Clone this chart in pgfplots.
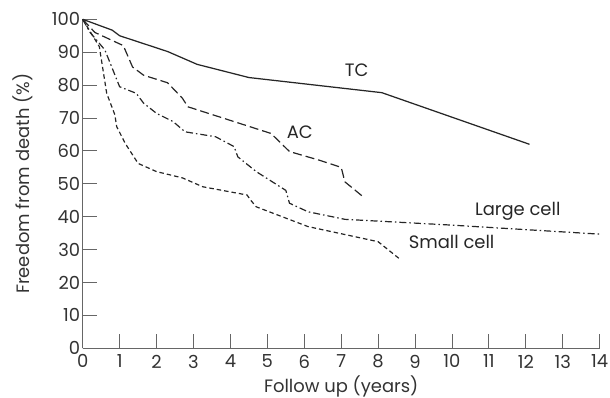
\documentclass[border=0pt]{standalone}
\usepackage{pgfplots}
\pgfplotsset{compat=1.18}
\usepackage{fontspec}
\setmainfont{Poppins}
\begin{document}
\begin{tikzpicture}[font=\fontsize{18}{21}\selectfont]
\begin{axis}[
  scale only axis,
  width=517bp, height=329bp,
  xmin=0, xmax=14, ymin=0, ymax=100,
  axis lines=left,
  axis line style={-, draw=black!60, line width=1pt},
  tick style={draw=black!60, line width=0.9pt},
  tick align=inside,
  major tick length=14bp,
  xtick={0,1,...,14}, ytick={0,10,...,100},
  /pgf/number format/assume math mode=true,
  ticklabel style={text=black!80},
  xticklabel style={yshift=-3bp},
  yticklabel style={xshift=1bp},
  xlabel={Follow up (years)},
  ylabel={Freedom from death (\%)},
  xlabel style={yshift=-1bp},
  ylabel style={yshift=12bp},
  label style={text=black!80},
  clip=false,
]
\coordinate (O) at (rel axis cs:0,0);
% TC
\addplot[black!85, line width=1.25pt] coordinates {
(0,100) (0.8,96.7) (1,95) (2.3,90.2) (3.1,86.3) (4.5,82.3) (8.1,77.7) (12.1,62)};
% AC
\addplot[black!85, line width=1.2pt, dash pattern=on 9bp off 4bp] coordinates {
(0,100) (0.33,96) (1.1,92) (1.35,85.5) (1.65,83) (2.3,80.7) (2.7,76) (2.85,73.4) (5.1,65.3) (5.6,59.8) (6.4,57.2) (7.0,55) (7.1,50.6) (7.6,46)};
% Large cell
\addplot[black!85, line width=1.2pt, dash pattern=on 7bp off 3bp on 1.5bp off 3bp] coordinates {
(0,100) (0.2,96) (0.6,90.7) (1.0,79.5) (1.45,77.5) (1.65,74.5) (2.0,71.4) (2.45,68.9) (2.77,65.8) (3.6,64.3) (4.1,61.3) (4.2,58.2) (4.7,53.7) (5.5,48) (5.6,44.1) (6.1,41.5) (7.1,39.2) (9.9,37.5) (14,34.7)};
% Small cell
\addplot[black!85, line width=1.2pt, dash pattern=on 4.5bp off 3bp] coordinates {
(0,100) (0.45,91.7) (0.65,77.5) (0.87,71) (0.92,67.4) (1.15,62.3) (1.5,56.2) (2.0,53.7) (2.7,51.8) (3.25,49.1) (4.45,46.6) (4.55,45) (4.7,43) (6.1,37) (8.0,32.4) (8.6,27)};
\node[text=black!85] at (axis cs:7.42,84.6) {TC};
\node[text=black!85] at (axis cs:5.88,65.8) {AC};
\node[text=black!85] at (axis cs:11.78,41.5) {Large cell};
\node[text=black!85] at (axis cs:9.99,32.4) {Small cell};
\end{axis}
\pgfresetboundingbox
\path (O) ++(-82.7bp,-49.7bp) rectangle ++(610bp,398bp);
\end{tikzpicture}
\end{document}
